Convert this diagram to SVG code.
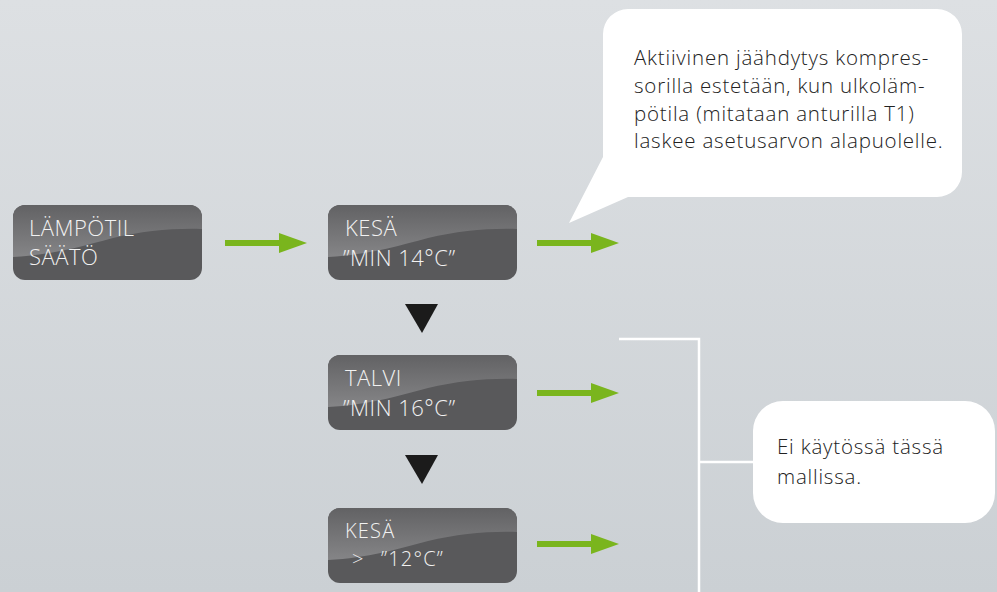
<svg xmlns="http://www.w3.org/2000/svg" width="997" height="592" viewBox="0 0 997 592">
<defs>
<linearGradient id="bg" x1="0" y1="0" x2="0" y2="1">
<stop offset="0" stop-color="#dde0e3"/>
<stop offset="1" stop-color="#cbd0d4"/>
</linearGradient>
<linearGradient id="gloss" x1="0" y1="0" x2="0" y2="1">
<stop offset="0" stop-color="#626264"/>
<stop offset="1" stop-color="#858587"/>
</linearGradient>
<clipPath id="bclip"><rect x="0" y="0" width="189" height="75" rx="12"/></clipPath>
<g id="btn">
<rect x="0" y="0" width="189" height="75" rx="12" fill="#59595b"/>
<path clip-path="url(#bclip)" d="M0,0 H189 V24 C160,23 130,26 100,33 C70,41 40,50 0,52 Z" fill="url(#gloss)"/>
</g>
<marker id="ga" viewBox="0 0 28 20" refX="0" refY="10" markerUnits="userSpaceOnUse" markerWidth="28" markerHeight="20" orient="auto">
<path d="M0,0 L28,10 L0,20 Z" fill="#7ab51d"/>
</marker>
</defs>
<style>
.bt{font-family:"Open Sans","Liberation Sans",sans-serif;font-weight:300;font-size:22px;letter-spacing:0.5px;fill:#f2f2f2}
.bs{font-size:20px;letter-spacing:1.2px}
.ct{font-family:"Open Sans","Liberation Sans",sans-serif;font-weight:300;font-size:20.5px;letter-spacing:0.8px;fill:#222}
.ar{stroke:#7ab51d;stroke-width:6;fill:none}
.wl{stroke:#ffffff;stroke-width:2.5;fill:none}
</style>
<rect width="997" height="592" fill="url(#bg)"/>

<g id="connectors">
<line class="ar" x1="225" y1="243" x2="279" y2="243" marker-end="url(#ga)"/>
<line class="ar" x1="537" y1="243" x2="591" y2="243" marker-end="url(#ga)"/>
<line class="ar" x1="537" y1="393" x2="591" y2="393" marker-end="url(#ga)"/>
<line class="ar" x1="537" y1="544" x2="591" y2="544" marker-end="url(#ga)"/>
<path d="M405,304 H438 L422,333 Z" fill="#1b1b1b"/>
<path d="M405,455 H438 L422,484 Z" fill="#1b1b1b"/>
<path class="wl" d="M619,339 H699 V592"/>
<path class="wl" d="M699,462 H753"/>
</g>

<g id="node-lampotil">
<use href="#btn" x="13" y="205"/>
<text class="bt" x="29" y="236">LÄMPÖTIL</text>
<text class="bt" x="29" y="265">SÄÄTÖ</text>
</g>

<g id="node-kesa14">
<use href="#btn" x="328" y="205"/>
<text class="bt" x="345" y="236">KESÄ</text>
<text class="bt" x="343" y="266">”MIN 14°C”</text>
</g>

<g id="node-talvi">
<use href="#btn" x="328" y="355"/>
<text class="bt" x="345" y="386">TALVI</text>
<text class="bt" x="343" y="416">”MIN 16°C”</text>
</g>

<g id="node-kesa12">
<use href="#btn" x="328" y="508"/>
<text class="bt bs" x="345" y="538">KESÄ</text>
<text class="bt bs" x="352" y="566">&gt;</text>
<text class="bt bs" x="381" y="566">”12°C”</text>
</g>

<g id="callout-top">
<path d="M628,9 H937 A25,25 0 0 1 962,34 V172 A25,25 0 0 1 937,197 H628 L569,223 L603,157 V34 A25,25 0 0 1 628,9 Z" fill="#ffffff"/>
<text class="ct" x="634" y="65">Aktiivinen jäähdytys kompres-</text>
<text class="ct" x="634" y="93">sorilla estetään, kun ulkoläm-</text>
<text class="ct" x="634" y="121">pötila (mitataan anturilla T1)</text>
<text class="ct" x="634" y="148">laskee asetusarvon alapuolelle.</text>
</g>

<g id="callout-bottom">
<rect x="753" y="401" width="242" height="122" rx="30" fill="#ffffff"/>
<text class="ct" x="777" y="454">Ei käytössä tässä</text>
<text class="ct" x="777" y="484">mallissa.</text>
</g>
</svg>
